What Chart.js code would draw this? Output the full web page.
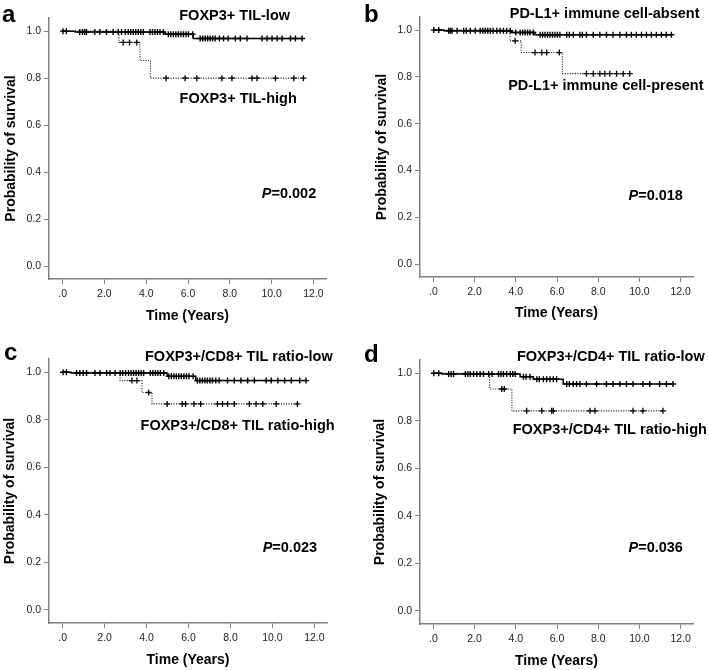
<!DOCTYPE html>
<html>
<head>
<meta charset="utf-8">
<script src="https://cdn.jsdelivr.net/npm/chart.js@4.4.1/dist/chart.umd.min.js"></script>
<style>
  body { margin: 0; background: #fff; }
  #wrap { position: relative; width: 709px; height: 670px; font-family: 'Liberation Sans', Arial, sans-serif; }
  #wrap canvas { position: absolute; }
  .tag { position: absolute; font-weight: bold; font-size: 24px; line-height: 24px; color: #000; }
</style>
</head>
<body>
<div id="wrap">
  <canvas id="km-a" width="354" height="335" style="left:0;top:0"></canvas>
  <canvas id="km-b" width="355" height="335" style="left:354px;top:0"></canvas>
  <canvas id="km-c" width="354" height="335" style="left:0;top:335px"></canvas>
  <canvas id="km-d" width="355" height="335" style="left:354px;top:335px"></canvas>
  <div class="tag" style="left:2px;top:2px">a</div>
  <div class="tag" style="left:364px;top:2px">b</div>
  <div class="tag" style="left:4px;top:340px">c</div>
  <div class="tag" style="left:364px;top:342px">d</div>
</div>
<script>
const xTicks = [0, 2, 4, 6, 8, 10, 12];
const xTickLabels = ['.0', '2.0', '4.0', '6.0', '8.0', '10.0', '12.0'];
const yTicks = [0, 0.2, 0.4, 0.6, 0.8, 1.0];
const yTickLabels = ['0.0', '0.2', '0.4', '0.6', '0.8', '1.0'];

// a: FOXP3+ TIL
const aGroups = ['FOXP3+ TIL-low', 'FOXP3+ TIL-high'];
const aLowTimes  = [0, 0.6, 4.9, 6.25, 11.5];
const aLowSurv   = [1, 0.996, 0.987, 0.969, 0.969];
const aLowCensor = [0.02, 0.18, 0.82, 0.95, 1.05, 1.14, 1.54, 1.78, 2.1, 2.42, 2.66, 2.82, 3.0, 3.14, 3.26, 3.38, 3.5, 3.62,
  3.74, 3.86, 4.18, 4.3, 4.42, 4.54, 4.66, 4.82, 5.06, 5.18, 5.3, 5.42, 5.54, 5.66, 5.78, 5.9, 6.02, 6.22, 6.58, 6.7,
  6.82, 6.94, 7.06, 7.18, 7.3, 7.5, 7.7, 7.92, 8.26, 8.5, 8.82, 9.54, 9.78, 10.02, 10.26, 10.5, 10.9, 11.14, 11.46];
const aHighTimes  = [0, 2.7, 3.7, 4.2, 11.52];
const aHighSurv   = [1, 0.952, 0.875, 0.80, 0.80];
const aHighCensor = [2.9, 3.2, 3.55, 4.95, 5.86, 6.42, 7.62, 8.1, 9.06, 9.3, 10.18, 11.06, 11.52];
const aP = '0.002';

// b: PD-L1+ immune cells
const bGroups = ['PD-L1+ immune cell-absent', 'PD-L1+ immune cell-present'];
const bLowTimes  = [0, 0.5, 3.8, 4.93, 11.55];
const bLowSurv   = [1, 0.997, 0.99, 0.98, 0.98];
const bLowCensor = [0.02, 0.26, 0.74, 0.82, 0.9, 1.15, 1.47, 1.6, 1.79, 2.03, 2.27, 2.4, 2.52, 2.64, 2.76, 2.9, 3.08, 3.24,
  3.4, 3.56, 3.73, 4.0, 4.21, 4.33, 4.45, 4.57, 4.69, 4.85, 5.18, 5.3, 5.42, 5.54, 5.66, 5.78, 5.9, 6.02, 6.14, 6.47,
  6.6, 6.79, 7.11, 7.23, 7.43, 7.76, 8.08, 8.4, 8.72, 9.05, 9.37, 9.61, 9.85, 10.1, 10.34, 10.58, 10.82, 11.07, 11.3, 11.55];
const bHighTimes  = [0, 3.72, 4.26, 6.26, 9.53];
const bHighSurv   = [1, 0.954, 0.904, 0.814, 0.814];
const bHighCensor = [3.97, 4.93, 5.26, 5.5, 6.11, 7.43, 7.76, 8.08, 8.32, 8.56, 8.89, 9.21, 9.53];
const bP = '0.018';

// c: FOXP3+/CD8+ TIL ratio
const cGroups = ['FOXP3+/CD8+ TIL ratio-low', 'FOXP3+/CD8+ TIL ratio-high'];
const cLowTimes  = [0, 0.4, 4.98, 6.34, 11.6];
const cLowSurv   = [1, 0.997, 0.983, 0.965, 0.965];
const cLowCensor = [0.02, 0.18, 0.66, 0.82, 0.98, 1.14, 1.54, 1.78, 2.1, 2.26, 2.5, 2.74, 2.86, 3.0, 3.14, 3.26, 3.38, 3.5,
  3.62, 3.74, 3.86, 4.18, 4.3, 4.42, 4.54, 4.66, 4.82, 5.06, 5.18, 5.3, 5.42, 5.54, 5.66, 5.78, 5.9, 6.02, 6.22, 6.42,
  6.54, 6.66, 6.78, 6.9, 7.02, 7.14, 7.3, 7.46, 7.86, 8.18, 8.5, 8.82, 9.14, 9.7, 9.94, 10.26, 10.58, 10.9, 11.3, 11.6];
const cHighTimes  = [0, 2.74, 3.78, 4.26, 11.19];
const cHighSurv   = [1, 0.965, 0.915, 0.867, 0.867];
const cHighCensor = [3.3, 3.54, 4.1, 4.98, 5.7, 5.86, 6.26, 6.58, 7.38, 7.62, 7.86, 8.18, 8.9, 9.22, 9.54, 10.18, 11.19];
const cP = '0.023';

// d: FOXP3+/CD4+ TIL ratio
const dGroups = ['FOXP3+/CD4+ TIL ratio-low', 'FOXP3+/CD4+ TIL ratio-high'];
const dLowTimes  = [0, 0.42, 4.21, 4.85, 6.3, 11.63];
const dLowSurv   = [1, 0.997, 0.986, 0.975, 0.955, 0.955];
const dLowCensor = [0.02, 0.26, 0.74, 0.86, 0.98, 1.55, 1.67, 1.79, 1.95, 2.11, 2.27, 2.43, 2.68, 2.84, 3.16, 3.28, 3.4,
  3.56, 3.73, 3.85, 3.97, 4.37, 4.5, 4.69, 5.02, 5.14, 5.34, 5.5, 5.66, 5.82, 5.98, 6.47, 6.6, 6.79, 6.95, 7.11, 7.43,
  7.92, 8.4, 8.72, 9.05, 9.37, 9.69, 10.17, 10.5, 10.98, 11.31, 11.63];
const dHighTimes  = [0, 2.73, 3.81, 11.14];
const dHighSurv   = [1, 0.934, 0.842, 0.842];
const dHighCensor = [3.32, 3.44, 4.53, 5.26, 5.74, 5.82, 7.6, 7.84, 9.69, 10.17, 11.14];
const dP = '0.036';

const FONT = "'Liberation Sans', Arial, sans-serif";
const AXIS = '#808080';

// survival value in force at time t (step function)
function survAt(times, surv, t) {
  let v = surv[0];
  for (let i = 0; i < times.length; i++) if (times[i] <= t) v = surv[i];
  return v;
}

const kmText = {
  id: 'kmText',
  afterDatasetsDraw(chart, args, opts) {
    const { ctx, scales: { x, y } } = chart;
    ctx.save();
    ctx.fillStyle = '#000';
    ctx.textBaseline = 'middle';
    opts.items.forEach(it => {
      const px = x.getPixelForValue(it.x), py = y.getPixelForValue(it.y);
      if (it.p) {
        ctx.font = 'italic bold 14.5px ' + FONT;
        const w1 = ctx.measureText('P').width;
        ctx.font = 'bold 14.5px ' + FONT;
        const w2 = ctx.measureText('=' + it.p).width;
        const x0 = px - (w1 + w2) / 2;
        ctx.textAlign = 'left';
        ctx.font = 'italic bold 14.5px ' + FONT;
        ctx.fillText('P', x0, py);
        ctx.font = 'bold 14.5px ' + FONT;
        ctx.fillText('=' + it.p, x0 + w1, py);
      } else {
        ctx.textAlign = 'center';
        ctx.font = 'bold 14.5px ' + FONT;
        ctx.fillText(it.text, px, py);
      }
    });
    ctx.restore();
  }
};

function drawPanel(id, p) {
  const steps = (t, s) => t.map((v, i) => ({ x: v, y: s[i] }));
  const marks = (c, t, s) => c.map(v => ({ x: v, y: survAt(t, s, v) }));
  new Chart(document.getElementById(id), {
    type: 'scatter',
    data: {
      datasets: [
        { data: steps(p.lowT, p.lowS), showLine: true, stepped: true, borderColor: '#000', borderWidth: 1.5, pointRadius: 0 },
        { data: steps(p.highT, p.highS), showLine: true, stepped: true, borderColor: '#111', borderWidth: 1.1, borderDash: [1, 1.5], pointRadius: 0 },
        { data: marks(p.lowC, p.lowT, p.lowS), pointStyle: 'cross', pointRadius: 3, borderColor: '#000', borderWidth: 1.4 },
        { data: marks(p.highC, p.highT, p.highS), pointStyle: 'cross', pointRadius: 3, borderColor: '#000', borderWidth: 1.3 }
      ]
    },
    options: {
      responsive: false,
      animation: false,
      layout: { padding: { top: p.top, right: p.right, bottom: 0, left: 0 } },
      plugins: {
        legend: { display: false },
        tooltip: { enabled: false },
        kmText: { items: p.text }
      },
      scales: {
        x: {
          type: 'linear', min: -0.65, max: 12.6,
          afterFit: s => { s.height = p.xh; },
          afterBuildTicks: s => { s.ticks = xTicks.map(v => ({ value: v })); },
          ticks: { callback: (v, i) => xTickLabels[i], color: '#222', padding: 4, maxRotation: 0, font: { family: FONT, size: 10.5 } },
          grid: { drawOnChartArea: false, tickLength: 5, color: AXIS },
          border: { color: AXIS, width: 1.5 },
          title: { display: true, text: 'Time (Years)', color: '#000', padding: { top: 0, bottom: p.xtp }, font: { family: FONT, size: 14, weight: 'bold' } }
        },
        y: {
          type: 'linear', min: -0.055, max: 1.056,
          afterFit: s => { s.width = p.yw; },
          afterBuildTicks: s => { s.ticks = yTicks.map(v => ({ value: v })); },
          ticks: { callback: (v, i) => yTickLabels[i], color: '#222', padding: 3, font: { family: FONT, size: 10.5 } },
          grid: { drawOnChartArea: false, tickLength: 5, color: AXIS },
          border: { color: AXIS, width: 1.5 },
          title: { display: true, text: 'Probability of survival', color: '#000', padding: { top: p.ytp, bottom: 0 }, font: { family: FONT, size: 14, weight: 'bold' } }
        }
      }
    },
    plugins: [kmText]
  });
}

drawPanel('km-a', {
  lowT: aLowTimes, lowS: aLowSurv, lowC: aLowCensor, highT: aHighTimes, highS: aHighSurv, highC: aHighCensor,
  top: 18, right: 28, xh: 56, xtp: 10.6, yw: 49, ytp: 2.6,
  text: [{ text: aGroups[0], x: 8.23, y: 1.065 }, { text: aGroups[1], x: 8.4, y: 0.712 }, { p: aP, x: 10.83, y: 0.305 }]
});
drawPanel('km-b', {
  lowT: bLowTimes, lowS: bLowSurv, lowC: bLowCensor, highT: bHighTimes, highS: bHighSurv, highC: bHighCensor,
  top: 17, right: 16, xh: 58, xtp: 13.9, yw: 66, ytp: 19.6,
  text: [{ text: bGroups[0], x: 8.31, y: 1.069 }, { text: bGroups[1], x: 8.37, y: 0.76 }, { p: bP, x: 10.79, y: 0.293 }]
});
drawPanel('km-c', {
  lowT: cLowTimes, lowS: cLowSurv, lowC: cLowCensor, highT: cHighTimes, highS: cHighSurv, highC: cHighCensor,
  top: 24, right: 27, xh: 47, xtp: 1.6, yw: 49, ytp: 1.6,
  text: [{ text: cGroups[0], x: 8.4, y: 1.065 }, { text: cGroups[1], x: 8.34, y: 0.772 }, { p: cP, x: 10.83, y: 0.262 }]
});
drawPanel('km-d', {
  lowT: dLowTimes, lowS: dLowSurv, lowC: dLowCensor, highT: dHighTimes, highS: dHighSurv, highC: dHighCensor,
  top: 25, right: 16, xh: 46, xtp: 0, yw: 66, ytp: 17.6,
  text: [{ text: dGroups[0], x: 8.61, y: 1.067 }, { text: dGroups[1], x: 8.56, y: 0.761 }, { p: dP, x: 10.79, y: 0.264 }]
});
</script>
</body>
</html>
